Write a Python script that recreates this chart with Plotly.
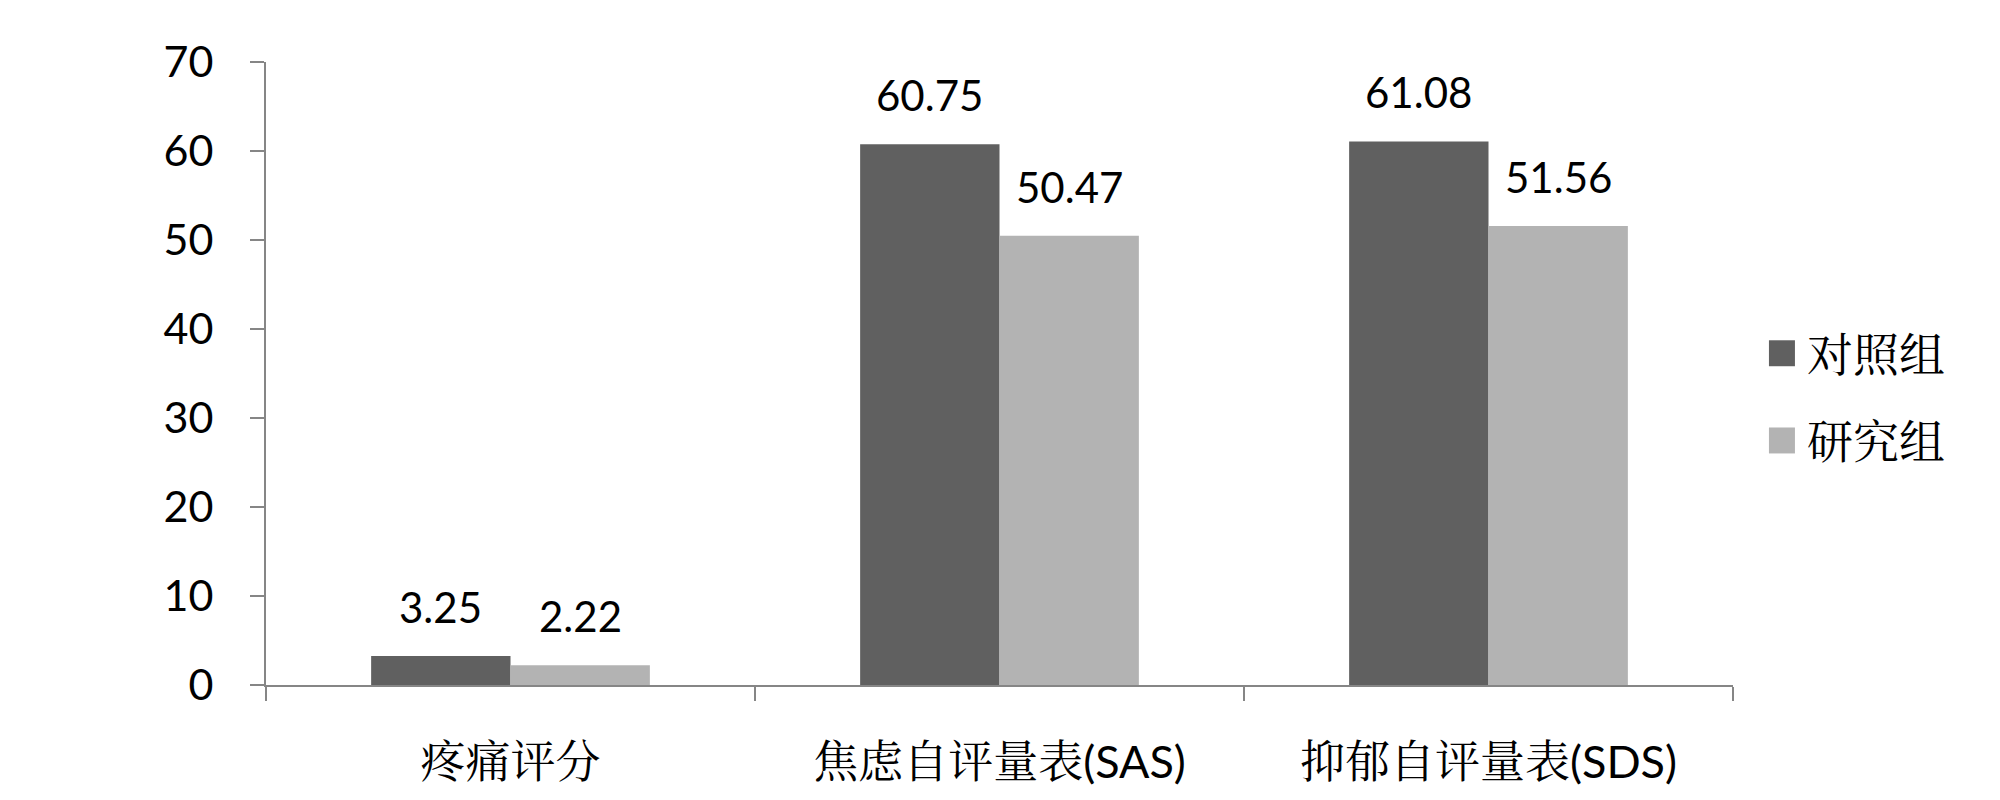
import plotly.graph_objects as go

categories = ["疼痛评分", "焦虑自评量表(SAS)", "抑郁自评量表(SDS)"]
control = [3.25, 60.75, 61.08]
study = [2.22, 50.47, 51.56]
series_names = ["对照组", "研究组"]
colors = ["#606060", "#b3b3b3"]
y_ticks = [0, 10, 20, 30, 40, 50, 60, 70]

num_font = "Lato, Carlito, 'Noto Sans CJK SC', sans-serif"
cjk_font = "Lato, 'Noto Serif CJK SC', 'Noto Sans CJK SC', serif"
axis_grey = "#868686"

fig = go.Figure()
for name, vals, col in zip(series_names, [control, study], colors):
    fig.add_trace(go.Bar(x=categories, y=vals, name=name, marker_color=col,
                         marker_line_width=0, showlegend=False))

# value labels above the bars (shifted onto the left / right bar of each group)
bar_px = 139.5
for vals, sh in zip([control, study], [-bar_px / 2, bar_px / 2]):
    for c, v in zip(categories, vals):
        fig.add_annotation(x=c, y=v, text=f"{v:.2f}", showarrow=False,
                           xshift=sh, yshift=22, yanchor="bottom",
                           font=dict(family=num_font, size=42, color="black"))

# legend drawn by hand so the swatches are the right size
for i, (name, col) in enumerate(zip(series_names, colors)):
    yc = 0.4625 + 0.07 - i * 0.14
    fig.add_shape(type="rect", xref="paper", yref="paper",
                  x0=1.0245, x1=1.0245 + 26 / 1467, y0=yc - 13 / 624, y1=yc + 13 / 624,
                  fillcolor=col, line_width=0)
    fig.add_annotation(xref="paper", yref="paper", x=1.0245 + 36 / 1467, y=yc,
                       text=name, showarrow=False, xanchor="left", yanchor="middle",
                       font=dict(family=cjk_font, size=46, color="black"))

fig.update_layout(
    width=2000, height=800,
    margin=dict(l=258, r=275, t=54, b=123),
    plot_bgcolor="white", paper_bgcolor="white",
    barmode="group", bargap=0.43, bargroupgap=0,
    showlegend=False,
)
fig.update_xaxes(
    type="category", showline=True, linecolor=axis_grey, linewidth=2,
    ticks="outside", tickson="boundaries", ticklen=14, tickwidth=2, tickcolor=axis_grey,
    tickfont=dict(family=cjk_font, size=45, color="black"), ticklabelstandoff=37,
    showgrid=False, zeroline=False,
)
fig.update_yaxes(
    range=[0, 70], tickvals=y_ticks, showline=True, linecolor=axis_grey, linewidth=2,
    ticks="outside", ticklen=14, tickwidth=2, tickcolor=axis_grey,
    tickfont=dict(family=num_font, size=43, color="black"), ticklabelstandoff=28,
    showgrid=False, zeroline=False,
)

fig.write_html("out.html")
